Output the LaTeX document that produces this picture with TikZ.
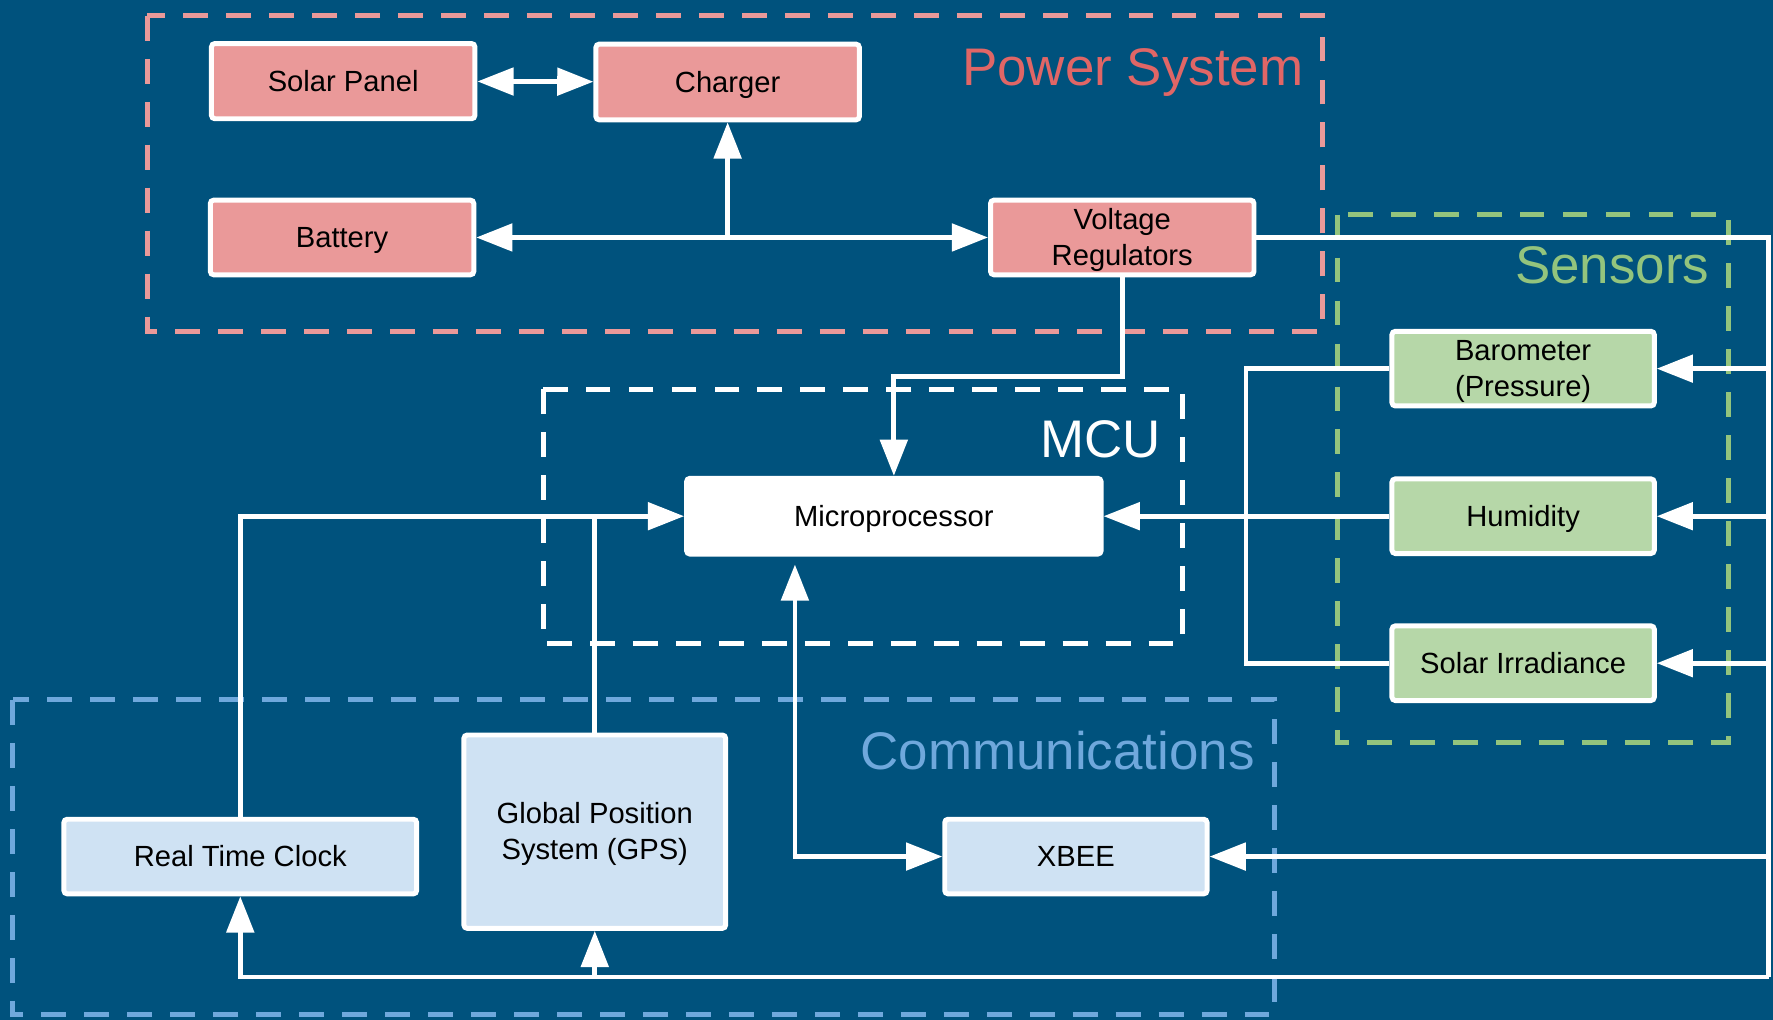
\documentclass[tikz,border=0pt]{standalone}
\usepackage{fontspec}
\setmainfont{Liberation Sans}
\usetikzlibrary{arrows.meta,calc}
\definecolor{bg}{RGB}{0,82,125}
\definecolor{pinkfill}{RGB}{234,153,153}
\definecolor{pinktxt}{RGB}{224,102,102}
\definecolor{greenfill}{RGB}{182,215,168}
\definecolor{greenline}{RGB}{147,196,125}
\definecolor{bluefill}{RGB}{207,226,243}
\definecolor{blueline}{RGB}{111,168,220}
\newcommand\bxfont{\fontsize{12.9}{15.8}\selectfont}
\newcommand\ttlfont{\fontsize{23.4}{28}\selectfont}
\begin{document}
\begin{tikzpicture}[x=0.5pt,y=-0.5pt,
  box/.style={draw=white,line width=2.2pt,rounded corners=1.5pt,inner sep=0pt,font=\bxfont,align=center,text=black},
  one/.style={text height=11.9pt,text depth=2.7pt},
  two/.style={text height=27.5pt,text depth=2.7pt},
  pbox/.style={box,fill=pinkfill},
  gbox/.style={box,fill=greenfill},
  bbox/.style={box,fill=bluefill},
  wbox/.style={box,fill=white},
  grp/.style={line width=2.2pt,dash pattern=on 11pt off 8pt},
  ttl/.style={anchor=base east,font=\ttlfont,inner sep=0pt},
  conn/.style={draw=white,line width=2.1pt},
  >={Triangle[length=16pt,width=12pt]}]
\fill[bg] (0,0) rectangle (1568,902);
\useasboundingbox (0,0) rectangle (1568,902);

% groups
\draw[grp,draw=pinkfill] (130.3,14) rectangle (1169.8,293.4);
\draw[grp,draw=white] (480.5,344.3) rectangle (1045.5,569);
\draw[grp,draw=greenline] (1182.5,189.8) rectangle (1529,657);
\draw[grp,draw=blueline] (11.3,619) rectangle (1127,897.6);

% titles
\node[ttl,text=pinktxt] (tps) at (1153,76) {Power System};
\node[ttl,text=greenline] (tsn) at (1512,251) {Sensors};
\node[ttl,text=white] (tmc) at (1027,405) {MCU};
\node[ttl,text=blueline] (tcm) at (1110,680.5) {Communications};

% nodes
\node[pbox,one,minimum width=116.5pt,minimum height=33.25pt] (sp) at (303.5,71.75) {Solar Panel};
\node[pbox,one,minimum width=116.5pt,minimum height=33.5pt] (chg) at (643.5,72.5) {Charger};
\node[pbox,one,minimum width=116.5pt,minimum height=33pt] (bat) at (302.5,210) {Battery};
\node[pbox,two,minimum width=116.5pt,minimum height=33pt] (vr) at (992.5,210) {Voltage\\Regulators};
\node[wbox,one,minimum width=183.3pt,minimum height=33.5pt] (mp) at (790.5,456.5) {Microprocessor};
\node[gbox,two,minimum width=116pt,minimum height=33pt] (baro) at (1347,326) {Barometer\\(Pressure)};
\node[gbox,one,minimum width=116pt,minimum height=33pt] (hum) at (1347,456.5) {Humidity};
\node[gbox,one,minimum width=116pt,minimum height=33pt] (si) at (1347,586.5) {Solar Irradiance};
\node[bbox,one,minimum width=156pt,minimum height=33pt] (rtc) at (212.5,757.5) {Real Time Clock};
\node[bbox,two,minimum width=115.75pt,minimum height=85.5pt] (gps) at (526,735.5) {Global Position\\System (GPS)};
\node[bbox,one,minimum width=116pt,minimum height=33pt] (xbee) at (951.5,757.5) {XBEE};

% connectors
\draw[conn,<->] (sp) -- (chg);
\draw[conn,<->] (bat) -- (vr);
\coordinate (jc) at (chg |- bat);
\draw[conn,->] (jc) -- (chg);

\coordinate (rt) at (1564,210);
\coordinate (rb) at (1564,864);
\draw[conn] (vr) -- (rt) -- (rb);
\coordinate (jg) at (gps.south |- rb);
\draw[conn,->] (rb) -- (jg) -- (gps);
\draw[conn,->] (jg) -| (rtc);
\draw[conn,->] (rt |- baro) -- (baro);
\draw[conn,->] (rt |- hum) -- (hum);
\draw[conn,->] (rt |- si) -- (si);
\draw[conn,->] (rt |- xbee) -- (xbee);

\coordinate (bus) at (1102,326);
\draw[conn] (baro) -- (bus) |- (si);
\draw[conn,->] (hum) -- (mp);

\coordinate (j1) at (992.5,333);
\draw[conn,->] (vr) -- (j1) -| (mp);

\coordinate (j2) at (gps |- mp);
\draw[conn] (rtc) |- (j2);
\draw[conn,->] (gps) -- (j2) -- (mp);

\coordinate (j3) at (703,757.5);
\draw[conn,<->,shorten <=3.5pt] (j3 |- mp.south) -- (j3) -- (xbee);
\end{tikzpicture}
\end{document}
